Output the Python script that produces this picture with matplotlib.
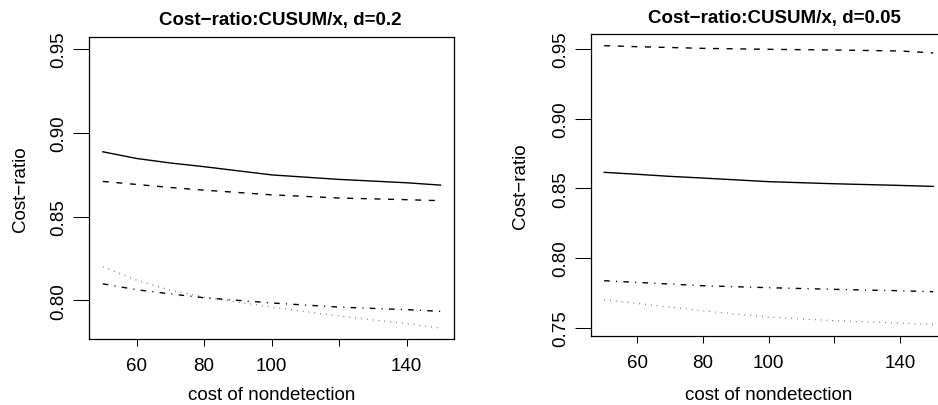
import matplotlib
matplotlib.use("Agg")
import matplotlib.pyplot as plt

plt.rcParams['font.family'] = ['Liberation Sans', 'DejaVu Sans']

# cost of nondetection
x = [50, 60, 70, 80, 100, 120, 140, 150]

# d = 0.2
solid_02 = [0.8887, 0.8847, 0.8820, 0.8798, 0.8749, 0.8722, 0.8702, 0.8688]
dashed_02 = [0.8710, 0.8692, 0.8674, 0.8658, 0.8630, 0.8611, 0.8601, 0.8595]
dotted_02 = [0.8201, 0.8121, 0.8061, 0.8020, 0.7960, 0.7907, 0.7861, 0.7835]
dashdot_02 = [0.8099, 0.8064, 0.8039, 0.8016, 0.7985, 0.7960, 0.7945, 0.7935]

# d = 0.05
solid_005 = [0.8615, 0.8601, 0.8586, 0.8574, 0.8548, 0.8533, 0.8521, 0.8514]
dashed_005 = [0.9524, 0.9517, 0.9511, 0.9505, 0.9498, 0.9493, 0.9486, 0.9472]
dotted_005 = [0.7700, 0.7674, 0.7648, 0.7621, 0.7576, 0.7550, 0.7533, 0.7522]
dashdot_005 = [0.7837, 0.7825, 0.7813, 0.7801, 0.7787, 0.7775, 0.7765, 0.7758]

xticks = [60, 80, 100, 120, 140]
xticklabels = ['60', '80', '100', '', '140']
yticks_02 = [0.80, 0.85, 0.90, 0.95]
yticks_005 = [0.75, 0.80, 0.85, 0.90, 0.95]

fig = plt.figure(figsize=(9.38, 4.06), dpi=100)
ax1 = fig.add_axes([0.0952, 0.1626, 0.3888, 0.7431])
ax2 = fig.add_axes([0.6301, 0.1692, 0.3788, 0.7446])


def draw(ax, solid, dashed, dotted, dashdot, yticks, ylim, title, title_x, title_pad, ylab_x, xlab_y):
    ax.plot(x, solid, color='black', lw=1.0)
    ax.plot(x, dashed, color='black', lw=1.0, dashes=(4.3, 5.5))
    ax.plot(x, dotted, color='0.4', lw=0.9, dashes=(0.7, 4.0))
    ax.plot(x, dashdot, color='black', lw=1.0, dashes=(4.0, 4.5, 0.8, 4.5))
    ax.set_xlim(46, 154)
    ax.set_ylim(*ylim)
    ax.set_xticks(xticks)
    ax.set_xticklabels(xticklabels)
    ax.set_yticks(yticks)
    ax.set_yticklabels([f'{v:.2f}' for v in yticks])
    ax.tick_params(axis='x', direction='out', length=5, width=0.75, pad=8, labelsize=13.5)
    ax.tick_params(axis='y', direction='out', length=11.5, width=0.75, pad=4.4,
                   labelsize=13.5, labelrotation=90)
    for lab in ax.get_yticklabels():
        lab.set_va('center')
    for sp in ax.spines.values():
        sp.set_linewidth(0.9)
    ax.set_title(title, fontsize=13.5, fontweight='bold', x=title_x, pad=title_pad)
    ax.set_xlabel('cost of nondetection', fontsize=13.5)
    ax.set_ylabel('Cost\u2212ratio', fontsize=13.5)
    ax.xaxis.set_label_coords(0.5, xlab_y)
    ax.yaxis.set_label_coords(ylab_x, 0.5)


draw(ax1, solid_02, dashed_02, dotted_02, dashdot_02, yticks_02, (0.777, 0.957),
     'Cost\u2212ratio:CUSUM/x, d=0.2', 0.523, 9.6, -0.165, -0.156)
draw(ax2, solid_005, dashed_005, dotted_005, dashdot_005, yticks_005, (0.7438, 0.9608),
     'Cost\u2212ratio:CUSUM/x, d=0.05', 0.517, 8.4, -0.1745, -0.164)

fig.savefig('out.png', dpi=100)
